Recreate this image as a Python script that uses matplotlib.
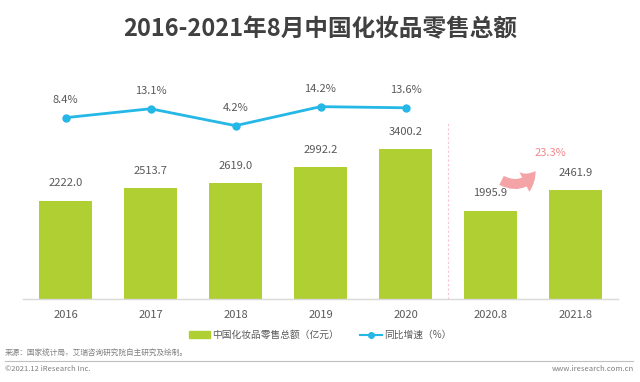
import matplotlib
matplotlib.use("Agg")
import matplotlib.pyplot as plt
from matplotlib.patches import Patch
from matplotlib.lines import Line2D

plt.rcParams['font.family'] = ['Noto Sans CJK SC', 'DejaVu Sans']

categories = ['2016', '2017', '2018', '2019', '2020', '2020.8', '2021.8']
sales = [2222.0, 2513.7, 2619.0, 2992.2, 3400.2, 1995.9, 2461.9]
growth_years = ['2016', '2017', '2018', '2019', '2020']
growth = [8.4, 13.1, 4.2, 14.2, 13.6]
ytd_growth = '23.3%'

BAR = '#AFCF33'
LINE = '#25B7E6'
TXT = '#595959'
PINK = '#F2868A'

W, H = 640, 382
fig = plt.figure(figsize=(W / 100, H / 100), dpi=100)

# axes box in pixels: left 23, right 618, top 100, bottom 299
ax = fig.add_axes([23 / W, 1 - 299 / H, 595 / W, 199 / H])
x = list(range(len(categories)))
ax.bar(x, sales, width=0.62, color=BAR, zorder=2)
ax.set_xlim(-0.5, 6.5)
ax.set_ylim(0, 4512)
for xi, v in zip(x, sales):
    ax.annotate(f'{v:.1f}', (xi, v), xytext=(0, 9), textcoords='offset points',
                ha='center', va='bottom', fontsize=8, color=TXT)

ax.set_xticks(x)
ax.set_xticklabels(categories, fontsize=8, color=TXT)
ax.tick_params(axis='x', length=0, pad=8)
ax.set_yticks([])
for s in ['top', 'right', 'left']:
    ax.spines[s].set_visible(False)
ax.spines['bottom'].set_color('#D9D9D9')
ax.spines['bottom'].set_linewidth(1)

# divider between full years and Jan-Aug
ax.vlines(4.5, 0, 4014, colors='#F7C6D0', linestyles=(0, (2, 2)), linewidth=0.8)

# growth line on twin axis
ax2 = ax.twinx()
ax2.set_ylim(-87, 17.7)
gx = [categories.index(c) for c in growth_years]
ax2.plot(gx, growth, color=LINE, linewidth=2, marker='o', markersize=5, zorder=3)
for xi, v in zip(gx, growth):
    ax2.annotate(f'{v:.1f}%', (xi, v), xytext=(0, 9), textcoords='offset points',
                 ha='center', va='bottom', fontsize=8, color=TXT)
ax2.set_yticks([])
for s in ax2.spines.values():
    s.set_visible(False)

# Jan-Aug growth arrow
i0, i1 = categories.index('2020.8'), categories.index('2021.8')
ax.annotate('', xy=(i0 + 0.53, 2900), xytext=(i0 + 0.13, 2690),
            arrowprops=dict(arrowstyle='simple,head_length=0.7,head_width=1.0,tail_width=0.45',
                            connectionstyle='arc3,rad=0.45', color='#F4A3A6', lw=0,
                            mutation_scale=16, shrinkA=0, shrinkB=0))
ax.text((i0 + i1) / 2 + 0.2, 3320, ytd_growth, ha='center', va='center',
        fontsize=8, color=PINK)

fig.text(0.5, 1 - 29 / H, '2016-2021年8月中国化妆品零售总额', ha='center', va='center',
         fontsize=17, fontweight='bold', color='#404040')

handles = [Patch(color=BAR), Line2D([], [], color=LINE, lw=1.5, marker='o', markersize=4)]
fig.legend(handles, ['中国化妆品零售总额（亿元）', '同比增速（%）'], loc='center',
           bbox_to_anchor=(0.5, 1 - 335 / H), ncol=2, frameon=False, fontsize=7,
           handlelength=2.2, handleheight=0.6, columnspacing=2.2, handletextpad=0.2,
           labelcolor=TXT)

fig.text(5 / W, 1 - 354 / H, '来源：国家统计局，艾瑞咨询研究院自主研究及绘制。', ha='left',
         va='center', fontsize=5.5, color='#7F7F7F')
fig.add_artist(Line2D([5 / W, 633 / W], [1 - 361 / H, 1 - 361 / H], color='#BFBFBF', lw=0.8))
fig.text(5 / W, 1 - 369 / H, '©2021.12 iResearch Inc.', ha='left', va='center',
         fontsize=5.5, color='#7F7F7F')
fig.text(634 / W, 1 - 369 / H, 'www.iresearch.com.cn', ha='right', va='center',
         fontsize=5.5, color='#7F7F7F')

fig.savefig('out.png', dpi=100)
